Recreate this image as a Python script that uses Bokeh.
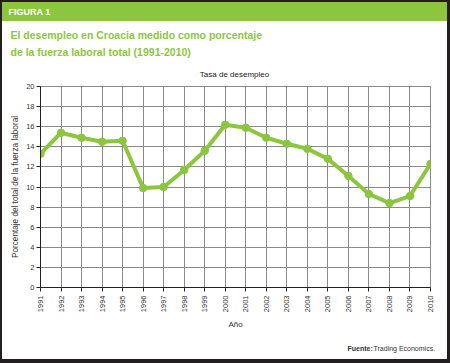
from bokeh.plotting import figure
from bokeh.models import Label, FixedTicker, Range1d
from bokeh.embed import file_html
from bokeh.resources import INLINE

years = list(range(1991, 2011))
unemployment = [13.3, 15.4, 14.9, 14.5, 14.6, 9.9, 10.0, 11.7, 13.6, 16.2,
                15.9, 14.9, 14.3, 13.8, 12.8, 11.1, 9.3, 8.4, 9.1, 12.3]
y_ticks = list(range(0, 21, 2))

header = "FIGURA 1"
title_lines = ["El desempleo en Croacia medido como porcentaje",
               "de la fuerza laboral total (1991-2010)"]
chart_title = "Tasa de desempleo"
y_label = "Porcentaje del total de la fuerza laboral"
x_label = "Año"
source_bold = "Fuente:"
source_text = "Trading Economics."

GREEN = "#8cc63f"
FONT = "Liberation Sans"

W, H = 450, 363
p = figure(width=W, height=H, output_backend="svg", toolbar_location=None,
           x_range=Range1d(1991, 2010), y_range=Range1d(0, 20),
           min_border_left=40, min_border_right=20, min_border_top=86,
           min_border_bottom=76)
p.background_fill_color = "white"
p.border_fill_color = None
p.outline_line_color = "#8a8a8a"
p.outline_line_width = 1
p.styles = {
    "background": "linear-gradient(to bottom, #8cc63f 0px, #8cc63f 21px, #ffffff 21px)",
    "box-shadow": "inset 2px 2px 0 0 #231f20, inset -3px -4px 0 0 #231f20",
}

p.line(years, unemployment, line_color=GREEN, line_width=4)
p.scatter(years, unemployment, size=7.5, fill_color=GREEN, line_color=GREEN)

p.xaxis.ticker = FixedTicker(ticks=years)
p.yaxis.ticker = FixedTicker(ticks=y_ticks)
p.xgrid.grid_line_color = "#8a8a8a"
p.ygrid.grid_line_color = "#8a8a8a"

for ax in (p.xaxis[0], p.yaxis[0]):
    ax.axis_line_color = "#222222"
    ax.major_tick_line_color = "#222222"
    ax.major_tick_out = 4
    ax.major_tick_in = 0
    ax.minor_tick_line_color = None
    ax.major_label_text_font = FONT
    ax.major_label_text_font_size = "7.5px"
    ax.major_label_text_color = "#333333"
    ax.axis_label_text_font = FONT
    ax.axis_label_text_font_style = "normal"
    ax.axis_label_text_color = "#333333"

p.xaxis.major_label_orientation = 1.5708
p.xaxis.major_label_standoff = 4
p.yaxis.major_label_standoff = 2
p.xaxis.axis_label = x_label
p.xaxis.axis_label_text_font_size = "8px"
p.xaxis.axis_label_standoff = 5
p.yaxis.axis_label = y_label
p.yaxis.axis_label_text_font_size = "8.2px"
p.yaxis.axis_label_standoff = 3


def lab(x, y, text, size, color, bold=False, align="left", panel="above"):
    p.add_layout(Label(x=x, y=y, x_units="canvas", y_units="canvas", text=text,
                       text_font=FONT, text_font_size=size,
                       text_font_style="bold" if bold else "normal",
                       text_color=color, text_align=align,
                       text_baseline="middle"), panel)


lab(8, 11.5, header, "9px", "white", bold=True)
lab(10, 34.5, title_lines[0], "10.5px", GREEN, bold=True)
lab(10, 51.5, title_lines[1], "10.5px", GREEN, bold=True)
lab(234, 74, chart_title, "8px", "#222222", align="center")
lab(347, 348, source_bold, "7px", "#333333", bold=True)
lab(373, 348, source_text, "7px", "#333333", panel="below")

open("out.html", "w").write(file_html(p, INLINE))
